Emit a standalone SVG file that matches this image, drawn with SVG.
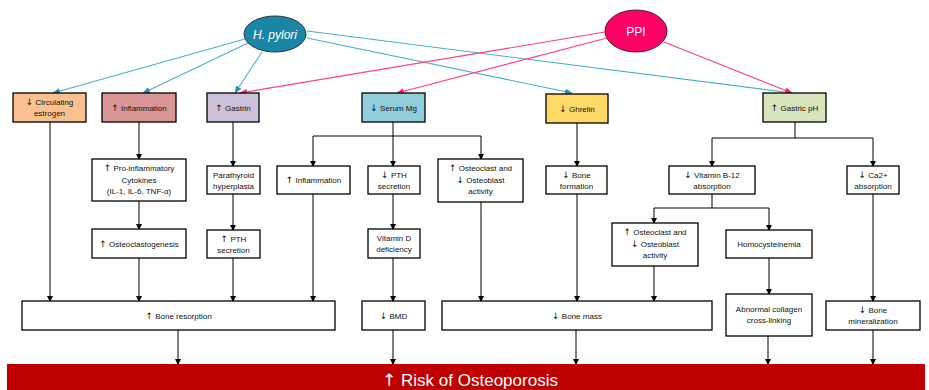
<svg xmlns="http://www.w3.org/2000/svg" width="929" height="390" viewBox="0 0 929 390">
<defs>
<marker id="ab" markerWidth="6" markerHeight="6" refX="5" refY="3" orient="auto" markerUnits="userSpaceOnUse"><path d="M0,0 L6,3 L0,6 Z" fill="#000"/></marker>
<marker id="abl" markerWidth="8" markerHeight="6" refX="7" refY="3" orient="auto" markerUnits="userSpaceOnUse"><path d="M0,0 L8,3 L0,6 Z" fill="#2a8fb0"/></marker>
<marker id="apk" markerWidth="8" markerHeight="6" refX="7" refY="3" orient="auto" markerUnits="userSpaceOnUse"><path d="M0,0 L8,3 L0,6 Z" fill="#ff1f66"/></marker>
</defs>
<style>
.box{stroke:#000;stroke-width:1.3;fill:#fff}
.t{font-family:"Liberation Sans",Arial,sans-serif;font-size:8px;fill:#111;text-anchor:middle}
.a{font-family:"DejaVu Sans",sans-serif;font-size:9px}
.c{stroke:#000;stroke-width:1;fill:none}
.cb{stroke:#4aaed0;stroke-width:1.1;fill:none}
.cp{stroke:#ff3f7a;stroke-width:1.1;fill:none}
</style>
<rect width="929" height="390" fill="#fff"/>

<g id="connectors">
<path class="cb" d="M245,39 L53,93" marker-end="url(#abl)"/>
<path class="cb" d="M248,43 L143,93" marker-end="url(#abl)"/>
<path class="cb" d="M262,52 L235,93" marker-end="url(#abl)"/>
<path class="cb" d="M307,38 L572,93" marker-end="url(#abl)"/>
<path class="cb" d="M307,31 L792,93" marker-end="url(#abl)"/>
<path class="cp" d="M605,32 L240,93" marker-end="url(#apk)"/>
<path class="cp" d="M607,38 L397,93" marker-end="url(#apk)"/>
<path class="cp" d="M664,42 L792,93" marker-end="url(#apk)"/>
<path class="c" d="M50,122 V301" marker-end="url(#ab)"/>
<path class="c" d="M139,122 V159" marker-end="url(#ab)"/>
<path class="c" d="M139,201 V229" marker-end="url(#ab)"/>
<path class="c" d="M139,258 V301" marker-end="url(#ab)"/>
<path class="c" d="M233,122 V166" marker-end="url(#ab)"/>
<path class="c" d="M233,194 V230" marker-end="url(#ab)"/>
<path class="c" d="M233,258 V301" marker-end="url(#ab)"/>
<path class="c" d="M393,122 V136 M313,136 H481"/>
<path class="c" d="M313,136 V166" marker-end="url(#ab)"/>
<path class="c" d="M393,136 V166" marker-end="url(#ab)"/>
<path class="c" d="M481,136 V159" marker-end="url(#ab)"/>
<path class="c" d="M313,194 V301" marker-end="url(#ab)"/>
<path class="c" d="M393,194 V229" marker-end="url(#ab)"/>
<path class="c" d="M393,258 V301" marker-end="url(#ab)"/>
<path class="c" d="M481,202 V301" marker-end="url(#ab)"/>
<path class="c" d="M577,123 V166" marker-end="url(#ab)"/>
<path class="c" d="M577,194 V301" marker-end="url(#ab)"/>
<path class="c" d="M795,122 V138 M712,138 H873"/>
<path class="c" d="M712,138 V166" marker-end="url(#ab)"/>
<path class="c" d="M873,138 V166" marker-end="url(#ab)"/>
<path class="c" d="M712,194 V208 M654,208 H769"/>
<path class="c" d="M654,208 V223" marker-end="url(#ab)"/>
<path class="c" d="M769,208 V230" marker-end="url(#ab)"/>
<path class="c" d="M654,266 V301" marker-end="url(#ab)"/>
<path class="c" d="M769,258 V294" marker-end="url(#ab)"/>
<path class="c" d="M873,194 V301" marker-end="url(#ab)"/>
<path class="c" d="M178,330 V364" marker-end="url(#ab)"/>
<path class="c" d="M393,330 V364" marker-end="url(#ab)"/>
<path class="c" d="M576,330 V364" marker-end="url(#ab)"/>
<path class="c" d="M768,336 V364" marker-end="url(#ab)"/>
<path class="c" d="M873,330 V364" marker-end="url(#ab)"/>
</g>

<g id="hpylori">
<ellipse cx="275" cy="34" rx="31" ry="18" fill="#1a86a6" stroke="#2b3a44" stroke-width="1"/>
<text x="275" y="38.5" font-family="Liberation Sans, Arial, sans-serif" font-size="12" font-style="italic" fill="#fff" text-anchor="middle">H. pylori</text>
</g>
<g id="ppi">
<ellipse cx="636" cy="31" rx="31" ry="21" fill="#ff0066" stroke="#4a2030" stroke-width="1"/>
<text x="636" y="35.5" font-family="Liberation Sans, Arial, sans-serif" font-size="12" fill="#fff" text-anchor="middle">PPI</text>
</g>

<g id="estrogen"><rect class="box" x="13" y="93" width="73" height="29" style="fill:#fac090"/><text class="t" x="49.5" y="105"><tspan class="a">↓</tspan> Circulating</text><text class="t" x="49.5" y="116">estrogen</text></g>
<g id="inflammation1"><rect class="box" x="102" y="93" width="74" height="29" style="fill:#da9694"/><text class="t" x="139" y="110.5"><tspan class="a">↑</tspan> Inflammation</text></g>
<g id="gastrin"><rect class="box" x="207" y="93" width="52" height="29" style="fill:#ccc0da"/><text class="t" x="233" y="110.5"><tspan class="a">↑</tspan> Gastrin</text></g>
<g id="serummg"><rect class="box" x="362" y="93" width="63" height="29" style="fill:#92cddc"/><text class="t" x="393.5" y="110.5"><tspan class="a">↓</tspan> Serum Mg</text></g>
<g id="ghrelin"><rect class="box" x="546" y="94" width="62" height="29" style="fill:#ffd966"/><text class="t" x="577" y="111.5"><tspan class="a">↓</tspan> Ghrelin</text></g>
<g id="gastricph"><rect class="box" x="763" y="93" width="63" height="29" style="fill:#d8e4bc"/><text class="t" x="794.5" y="110.5"><tspan class="a">↑</tspan> Gastric pH</text></g>

<g id="cytokines"><rect class="box" x="92" y="159" width="94" height="42"/><text class="t" x="139" y="171"><tspan class="a">↑</tspan> Pro-inflammatory</text><text class="t" x="139" y="182.5">Cytokines</text><text class="t" x="139" y="194">(IL-1, IL-6, TNF-α)</text></g>
<g id="osteoclastogenesis"><rect class="box" x="92" y="229" width="94" height="29"/><text class="t" x="139" y="246.5"><tspan class="a">↑</tspan> Osteoclastogenesis</text></g>
<g id="parathyroid"><rect class="box" x="207" y="166" width="53" height="28"/><text class="t" x="233.5" y="177.5">Parathyroid</text><text class="t" x="233.5" y="188.5">hyperplasia</text></g>
<g id="pthup"><rect class="box" x="207" y="230" width="53" height="28"/><text class="t" x="233.5" y="241.5"><tspan class="a">↑</tspan> PTH</text><text class="t" x="233.5" y="252.5">secretion</text></g>
<g id="inflammation2"><rect class="box" x="277" y="166" width="73" height="28"/><text class="t" x="313.5" y="183"><tspan class="a">↑</tspan> Inflammation</text></g>
<g id="pthdown"><rect class="box" x="368" y="166" width="52" height="28"/><text class="t" x="394" y="177.5"><tspan class="a">↓</tspan> PTH</text><text class="t" x="394" y="188.5">secretion</text></g>
<g id="vitd"><rect class="box" x="368" y="229" width="52" height="29"/><text class="t" x="394" y="241">Vitamin D</text><text class="t" x="394" y="252">deficiency</text></g>
<g id="osteo1"><rect class="box" x="438" y="159" width="85" height="43"/><text class="t" x="480.5" y="171"><tspan class="a">↑</tspan> Osteoclast and</text><text class="t" x="480.5" y="182.5"><tspan class="a">↓</tspan> Osteoblast</text><text class="t" x="480.5" y="194">activity</text></g>
<g id="boneformation"><rect class="box" x="546" y="166" width="61" height="28"/><text class="t" x="576.5" y="177.5"><tspan class="a">↓</tspan> Bone</text><text class="t" x="576.5" y="188.5">formation</text></g>
<g id="b12"><rect class="box" x="669" y="166" width="86" height="28"/><text class="t" x="712" y="177.5"><tspan class="a">↓</tspan> Vitamin B-12</text><text class="t" x="712" y="188.5">absorption</text></g>
<g id="ca"><rect class="box" x="847" y="166" width="52" height="28"/><text class="t" x="873" y="177.5"><tspan class="a">↓</tspan> Ca2+</text><text class="t" x="873" y="188.5">absorption</text></g>
<g id="osteo2"><rect class="box" x="612" y="223" width="86" height="43"/><text class="t" x="655" y="235"><tspan class="a">↑</tspan> Osteoclast and</text><text class="t" x="655" y="246.5"><tspan class="a">↓</tspan> Osteoblast</text><text class="t" x="655" y="258">activity</text></g>
<g id="homocysteinemia"><rect class="box" x="726" y="230" width="86" height="28"/><text class="t" x="769" y="247">Homocysteinemia</text></g>

<g id="boneresorption"><rect class="box" x="22" y="301" width="313" height="29"/><text class="t" x="178.5" y="318.5"><tspan class="a">↑</tspan> Bone resorption</text></g>
<g id="bmd"><rect class="box" x="362" y="301" width="63" height="29"/><text class="t" x="393.5" y="318.5"><tspan class="a">↓</tspan> BMD</text></g>
<g id="bonemass"><rect class="box" x="442" y="301" width="270" height="29"/><text class="t" x="577" y="318.5"><tspan class="a">↓</tspan> Bone mass</text></g>
<g id="collagen"><rect class="box" x="726" y="294" width="86" height="42"/><text class="t" x="769" y="312">Abnormal collagen</text><text class="t" x="769" y="323">cross-linking</text></g>
<g id="mineralization"><rect class="box" x="826" y="301" width="94" height="29"/><text class="t" x="873" y="312.5"><tspan class="a">↓</tspan> Bone</text><text class="t" x="873" y="323.5">mineralization</text></g>

<g id="risk">
<rect x="7" y="364" width="918" height="26" fill="#c00000"/>
<text x="470" y="386" font-family="Liberation Sans, Arial, sans-serif" font-size="17" fill="#fff" text-anchor="middle"><tspan font-family="DejaVu Sans, sans-serif">↑</tspan> Risk of Osteoporosis</text>
</g>
</svg>
